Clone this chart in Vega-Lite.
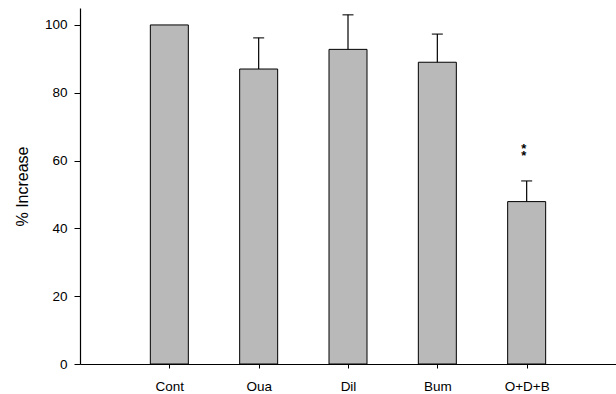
{
  "$schema": "https://vega.github.io/schema/vega-lite/v6.json",
  "width": 536,
  "height": 356,
  "autosize": {"type": "none"},
  "padding": {"left": 80, "top": 8, "right": 0, "bottom": 30},
  "background": "white",
  "config": {
    "view": {"stroke": null},
    "font": "Liberation Sans",
    "axis": {"grid": false, "domainColor": "black", "tickColor": "black", "labelColor": "black", "titleColor": "black", "labelFont": "Liberation Sans", "titleFont": "Liberation Sans"}
  },
  "data": {
    "values": [
      {"group": "Cont", "value": 100, "upper": null, "star": null},
      {"group": "Oua", "value": 87, "upper": 96.2, "star": null},
      {"group": "Dil", "value": 92.8, "upper": 103, "star": null},
      {"group": "Bum", "value": 89, "upper": 97.3, "star": null},
      {"group": "O+D+B", "value": 47.9, "upper": 54, "star": "*\n*"}
    ]
  },
  "encoding": {
    "x": {
      "field": "group", "type": "nominal", "sort": null,
      "scale": {"type": "point", "padding": 1},
      "axis": {"title": null, "labelAngle": 0, "tickSize": 4, "labelPadding": 11, "labelFontSize": 13.5, "domainWidth": 1.2}
    }
  },
  "layer": [
    {
      "mark": {"type": "bar", "size": 38, "fill": "#b9b9b9", "stroke": "black", "strokeWidth": 1},
      "encoding": {
        "y": {
          "field": "value", "type": "quantitative",
          "scale": {"domain": [0, 105], "nice": false},
          "axis": {"title": "% Increase", "values": [0, 20, 40, 60, 80, 100], "tickSize": 6, "labelPadding": 7, "labelFontSize": 13.5, "titleFontSize": 16, "titleFontWeight": "normal", "titlePadding": 14, "domainWidth": 1.2}
        }
      }
    },
    {
      "transform": [{"filter": "datum.upper != null"}],
      "mark": {"type": "rule", "color": "black", "strokeWidth": 1.2},
      "encoding": {
        "y": {"field": "value", "type": "quantitative"},
        "y2": {"field": "upper"}
      }
    },
    {
      "transform": [{"filter": "datum.upper != null"}],
      "mark": {"type": "tick", "color": "black", "size": 11, "thickness": 1.5},
      "encoding": {
        "y": {"field": "upper", "type": "quantitative"}
      }
    },
    {
      "transform": [{"filter": "datum.star != null"}],
      "mark": {"type": "text", "lineBreak": "\n", "fontSize": 13, "fontWeight": "bold", "lineHeight": 7, "dx": -3, "baseline": "middle", "color": "black"},
      "encoding": {
        "y": {"datum": 63.5, "type": "quantitative"},
        "text": {"field": "star"}
      }
    }
  ]
}
